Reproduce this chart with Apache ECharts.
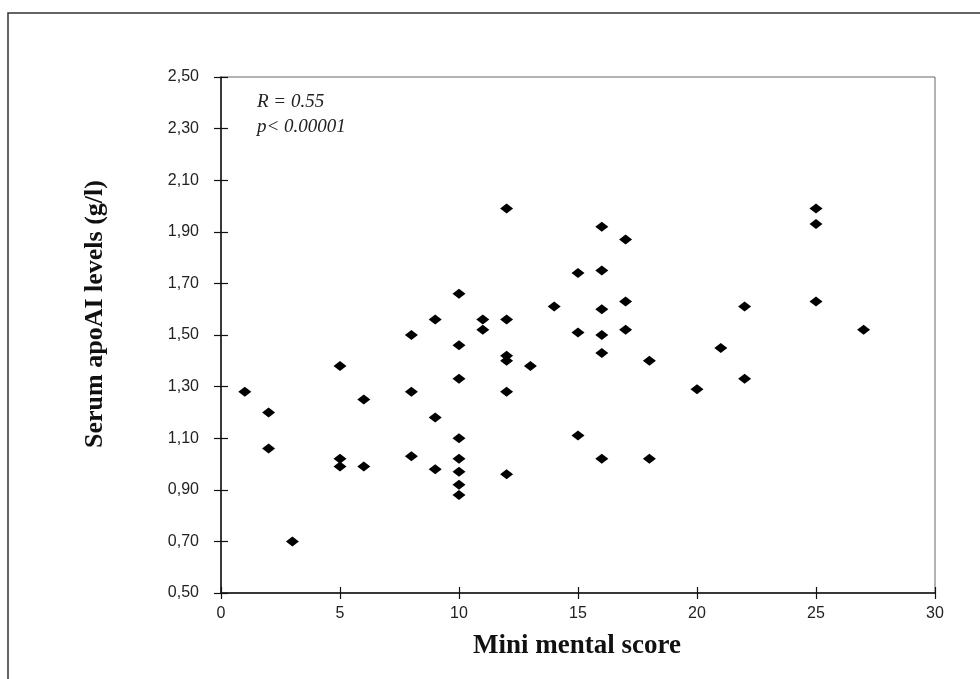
<!DOCTYPE html>
<html>
<head>
<meta charset="utf-8">
<script src="https://cdn.jsdelivr.net/npm/echarts@6/dist/echarts.min.js"></script>
<style>
  html, body { margin: 0; padding: 0; background: #fff; }
  #chart { width: 980px; height: 679px; }
</style>
</head>
<body>
<div id="chart"></div>
<script>
// mini mental score (x) and serum apoAI (g/l)
const scores = [
  1,
  2, 2,
  3,
  5, 5, 5,
  6, 6,
  8, 8, 8,
  9, 9, 9,
  10, 10, 10, 10, 10, 10, 10, 10,
  11, 11,
  12, 12, 12, 12, 12, 12,
  13,
  14,
  15, 15, 15,
  16, 16, 16, 16, 16, 16,
  17, 17, 17,
  18, 18,
  20,
  21,
  22, 22,
  25, 25, 25,
  27
];
const apoAI = [
  1.28,
  1.20, 1.06,
  0.70,
  1.38, 1.02, 0.99,
  1.25, 0.99,
  1.50, 1.28, 1.03,
  1.56, 1.18, 0.98,
  1.66, 1.46, 1.33, 1.10, 1.02, 0.97, 0.92, 0.88,
  1.56, 1.52,
  1.99, 1.56, 1.42, 1.40, 1.28, 0.96,
  1.38,
  1.61,
  1.74, 1.51, 1.11,
  1.92, 1.75, 1.60, 1.50, 1.43, 1.02,
  1.87, 1.63, 1.52,
  1.40, 1.02,
  1.29,
  1.45,
  1.61, 1.33,
  1.99, 1.93, 1.63,
  1.52
];
const xTicks = [0, 5, 10, 15, 20, 25, 30];
const yTicks = ['0,50', '0,70', '0,90', '1,10', '1,30', '1,50', '1,70', '1,90', '2,10', '2,30', '2,50'];
const statLines = ['R = 0.55', 'p< 0.00001'];

const points = scores.map((s, i) => [s, apoAI[i]]);

const chart = echarts.init(document.getElementById('chart'));

const labelFont = { fontFamily: 'Liberation Sans', fontSize: 16, color: '#222' };
const serif = 'Liberation Serif';

chart.setOption({
  animation: false,
  backgroundColor: '#fff',
  grid: {
    left: 221, right: 45, top: 77, bottom: 86,
    show: true, borderColor: '#666', borderWidth: 1
  },
  xAxis: [
    {
      type: 'value', min: 0, max: 30, interval: 5,
      axisLine: { show: true, lineStyle: { color: '#111', width: 1.5 } },
      axisTick: { show: true, length: 6, lineStyle: { color: '#111', width: 1.2 } },
      axisLabel: Object.assign({ margin: 13, formatter: v => xTicks.includes(v) ? String(v) : '' }, labelFont),
      splitLine: { show: false }
    },
    {
      type: 'value', min: 0, max: 30, interval: 5, position: 'bottom',
      axisLine: { show: false },
      axisTick: { show: true, inside: true, length: 6, lineStyle: { color: '#111', width: 1.2 } },
      axisLabel: { show: false },
      splitLine: { show: false }
    }
  ],
  yAxis: [
    {
      type: 'value', min: 0.5, max: 2.5, interval: 0.2,
      axisLine: { show: true, lineStyle: { color: '#111', width: 1.5 } },
      axisTick: { show: true, length: 7, lineStyle: { color: '#111', width: 1.2 } },
      axisLabel: Object.assign({
        margin: 22,
        formatter: v => yTicks[Math.round((v - 0.5) / 0.2)]
      }, labelFont),
      splitLine: { show: false }
    },
    {
      type: 'value', min: 0.5, max: 2.5, interval: 0.2, position: 'left',
      axisLine: { show: false },
      axisTick: { show: true, inside: true, length: 7, lineStyle: { color: '#111', width: 1.2 } },
      axisLabel: { show: false },
      splitLine: { show: false }
    }
  ],
  series: [{
    type: 'scatter',
    xAxisIndex: 0,
    yAxisIndex: 0,
    data: points,
    symbol: 'diamond',
    symbolSize: [13, 10],
    itemStyle: { color: '#000', opacity: 1 }
  }],
  graphic: [
    {
      type: 'rect', silent: true,
      shape: { x: 8, y: 13, width: 1000, height: 700 },
      style: { fill: 'none', stroke: '#333', lineWidth: 1.5 }
    },
    {
      type: 'text', left: 257, top: 92,
      style: { text: statLines[0], font: 'italic 19px "' + serif + '"', fill: '#222' }
    },
    {
      type: 'text', left: 257, top: 117,
      style: { text: statLines[1], font: 'italic 19px "' + serif + '"', fill: '#222' }
    },
    {
      type: 'text', x: 95, y: 314, rotation: Math.PI / 2,
      style: {
        text: 'Serum apoAI levels (g/l)', font: 'bold 26px "' + serif + '"',
        fill: '#111', align: 'center', verticalAlign: 'middle'
      }
    },
    {
      type: 'text', x: 577, y: 646,
      style: {
        text: 'Mini mental score', font: 'bold 27px "' + serif + '"',
        fill: '#111', align: 'center', verticalAlign: 'middle'
      }
    }
  ]
});
</script>
</body>
</html>
